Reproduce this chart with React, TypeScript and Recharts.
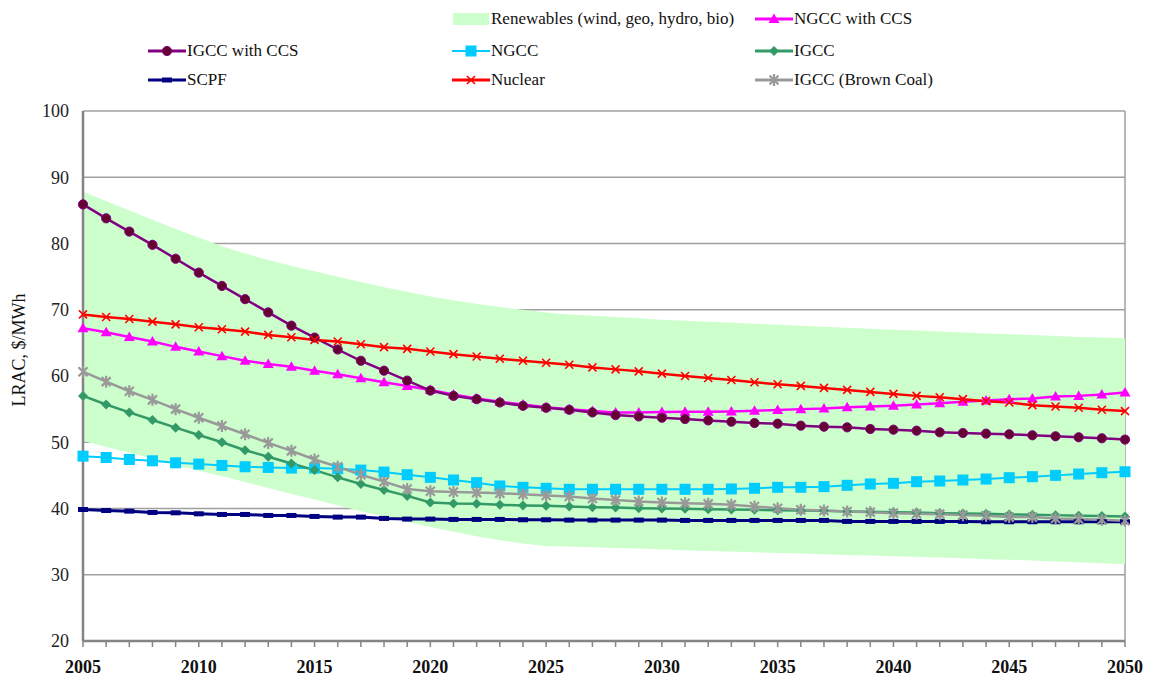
import React from "react";
import { ComposedChart, Line, Area, XAxis, YAxis, CartesianGrid, Label } from "recharts";

// categories
const YEARS = [
  2005, 2006, 2007, 2008, 2009, 2010, 2011, 2012, 2013, 2014,
  2015, 2016, 2017, 2018, 2019, 2020, 2021, 2022, 2023, 2024,
  2025, 2026, 2027, 2028, 2029, 2030, 2031, 2032, 2033, 2034,
  2035, 2036, 2037, 2038, 2039, 2040, 2041, 2042, 2043, 2044,
  2045, 2046, 2047, 2048, 2049, 2050,
];
const X_LABEL_YEARS = [2005, 2010, 2015, 2020, 2025, 2030, 2035, 2040, 2045, 2050];
const Y_TICKS = [20, 30, 40, 50, 60, 70, 80, 90, 100];

// Renewables band (wind, geo, hydro, bio), low / high edge, $/MWh
const RENEW_LOW = [
  50.2, 49.3, 48.4, 47.5, 46.6, 45.7, 44.9, 44.0, 43.1, 42.2,
  41.4, 40.5, 39.6, 38.8, 38.0, 37.2, 36.5, 35.8, 35.2, 34.7,
  34.35, 34.25, 34.15, 34.05, 33.95, 33.85, 33.7, 33.6, 33.5, 33.4,
  33.3, 33.2, 33.1, 33.0, 32.9, 32.8, 32.7, 32.6, 32.5, 32.35,
  32.25, 32.15, 32.0, 31.9, 31.75, 31.6,
];
const RENEW_HIGH = [
  87.8, 86.4, 85.0, 83.6, 82.2, 80.9, 79.6, 78.5, 77.5, 76.6,
  75.8, 75.0, 74.2, 73.4, 72.7, 72.0, 71.4, 70.9, 70.4, 70.0,
  69.6, 69.3, 69.1, 68.9, 68.7, 68.5, 68.35, 68.2, 68.05, 67.9,
  67.75, 67.6, 67.45, 67.3, 67.15, 67.0, 66.85, 66.7, 66.55, 66.4,
  66.3, 66.2, 66.05, 65.9, 65.8, 65.7,
];

const NGCC_CCS = [
  67.2, 66.6, 65.9, 65.2, 64.4, 63.7, 63.0, 62.3, 61.8, 61.4,
  60.8, 60.25, 59.65, 59.05, 58.5, 57.9, 57.2, 56.6, 56.1, 55.7,
  55.3, 55.0, 54.7, 54.5, 54.5, 54.55, 54.6, 54.6, 54.65, 54.75,
  54.85, 55.0, 55.1, 55.3, 55.4, 55.5, 55.7, 55.9, 56.1, 56.3,
  56.5, 56.6, 56.9, 57.0, 57.2, 57.5,
];
const IGCC_CCS = [
  85.9, 83.8, 81.8, 79.8, 77.7, 75.6, 73.6, 71.6, 69.6, 67.6,
  65.8, 64.0, 62.3, 60.8, 59.3, 57.8, 57.0, 56.5, 56.0, 55.5,
  55.2, 54.9, 54.5, 54.1, 53.9, 53.7, 53.5, 53.3, 53.1, 52.9,
  52.8, 52.5, 52.35, 52.25, 52.0, 51.9, 51.75, 51.5, 51.4, 51.3,
  51.2, 51.05, 50.9, 50.75, 50.6, 50.4,
];
const NGCC = [
  47.9, 47.7, 47.4, 47.2, 46.9, 46.7, 46.5, 46.3, 46.2, 46.1,
  46.1, 46.0, 45.8, 45.5, 45.1, 44.7, 44.3, 43.9, 43.4, 43.2,
  43.05, 42.9, 42.9, 42.9, 42.9, 42.9, 42.9, 42.9, 42.95, 43.05,
  43.2, 43.2, 43.3, 43.5, 43.7, 43.8, 44.05, 44.15, 44.3, 44.45,
  44.65, 44.8, 45.0, 45.2, 45.4, 45.55,
];
const IGCC = [
  57.0, 55.7, 54.5, 53.35, 52.2, 51.1, 50.0, 48.8, 47.8, 46.8,
  45.8, 44.7, 43.7, 42.8, 41.9, 40.9, 40.75, 40.7, 40.55, 40.45,
  40.4, 40.3, 40.2, 40.15, 40.05, 40.0, 39.95, 39.9, 39.85, 39.8,
  39.75, 39.7, 39.65, 39.55, 39.5, 39.45, 39.4, 39.3, 39.25, 39.2,
  39.1, 39.05, 39.0, 38.9, 38.85, 38.8,
];
const SCPF = [
  39.85, 39.7, 39.6, 39.4, 39.35, 39.2, 39.1, 39.1, 38.95, 38.95,
  38.8, 38.7, 38.7, 38.5, 38.4, 38.4, 38.35, 38.35, 38.35, 38.3,
  38.3, 38.25, 38.25, 38.25, 38.25, 38.25, 38.2, 38.2, 38.2, 38.2,
  38.2, 38.2, 38.2, 38.05, 38.05, 38.05, 38.05, 38.05, 38.05, 38.0,
  38.0, 38.0, 38.0, 38.0, 38.0, 38.0,
];
const NUCLEAR = [
  69.3, 68.9, 68.6, 68.2, 67.8, 67.35, 67.05, 66.7, 66.2, 65.85,
  65.45, 65.2, 64.8, 64.35, 64.1, 63.7, 63.3, 62.95, 62.6, 62.3,
  62.0, 61.7, 61.3, 61.0, 60.7, 60.35, 60.0, 59.7, 59.4, 59.05,
  58.75, 58.5, 58.2, 57.9, 57.6, 57.3, 57.0, 56.8, 56.5, 56.2,
  56.0, 55.6, 55.4, 55.2, 54.9, 54.7,
];
const IGCC_BROWN = [
  60.65, 59.15, 57.7, 56.4, 55.0, 53.7, 52.45, 51.2, 49.9, 48.7,
  47.4, 46.3, 45.1, 44.05, 42.95, 42.6, 42.5, 42.4, 42.3, 42.15,
  41.95, 41.8, 41.5, 41.3, 41.05, 40.9, 40.8, 40.7, 40.55, 40.3,
  40.05, 39.8, 39.7, 39.55, 39.45, 39.3, 39.2, 39.15, 39.0, 38.9,
  38.7, 38.7, 38.5, 38.4, 38.3, 38.15,
];

const data = YEARS.map((year, i) => ({
  year,
  renew: [RENEW_LOW[i], RENEW_HIGH[i]],
  ngccCcs: NGCC_CCS[i],
  igccCcs: IGCC_CCS[i],
  ngcc: NGCC[i],
  igcc: IGCC[i],
  scpf: SCPF[i],
  nuclear: NUCLEAR[i],
  brown: IGCC_BROWN[i],
}));

const FONT = "'Liberation Serif', 'Times New Roman', serif";
const BAND_FILL = "#ccffcc";
const GRID = "#a0a0a0";
const AXIS = "#858585";

// draw order follows the original workbook
const SERIES = [
  { key: "ngccCcs", name: "NGCC with CCS", color: "#ff00ff", marker: "triangle" },
  { key: "igccCcs", name: "IGCC with CCS", color: "#800080", fill: "#660033", marker: "circle" },
  { key: "ngcc", name: "NGCC", color: "#00ccff", marker: "square", width: 2 },
  { key: "igcc", name: "IGCC", color: "#339966", marker: "diamond" },
  { key: "scpf", name: "SCPF", color: "#000080", marker: "dash", width: 3 },
  { key: "nuclear", name: "Nuclear", color: "#ff0000", marker: "x" },
  { key: "brown", name: "IGCC (Brown Coal)", color: "#999999", marker: "star" },
];

// legend grid: [row, column]
const LEGEND_SLOTS: Record<string, [number, number]> = {
  renew: [0, 1],
  ngccCcs: [0, 2],
  igccCcs: [1, 0],
  ngcc: [1, 1],
  igcc: [1, 2],
  scpf: [2, 0],
  nuclear: [2, 1],
  brown: [2, 2],
};
const LEGEND_ROW_Y = [11, 43, 72];
const LEGEND_COL_X = [140, 444, 747];

function Marker({ kind, cx, cy, color, fill }: any) {
  if (cx == null || cy == null) return null;
  switch (kind) {
    case "circle":
      return <circle cx={cx} cy={cy} r={4.6} fill={fill || color} stroke={color} strokeWidth={1} />;
    case "triangle":
      return (
        <polygon
          points={`${cx},${cy - 5.5} ${cx + 5.5},${cy + 4} ${cx - 5.5},${cy + 4}`}
          fill={color}
        />
      );
    case "square":
      return <rect x={cx - 5.5} y={cy - 5.5} width={11} height={11} fill={color} />;
    case "diamond":
      return (
        <polygon
          points={`${cx},${cy - 5} ${cx + 5},${cy} ${cx},${cy + 5} ${cx - 5},${cy}`}
          fill={color}
        />
      );
    case "dash":
      return <rect x={cx - 5} y={cy - 2.5} width={10} height={5} fill={color} />;
    case "x":
      return (
        <path
          d={`M${cx - 4},${cy - 4}L${cx + 4},${cy + 4}M${cx + 4},${cy - 4}L${cx - 4},${cy + 4}`}
          stroke={color}
          strokeWidth={1.6}
        />
      );
    case "star":
      return (
        <path
          d={`M${cx - 4.5},${cy - 4.5}L${cx + 4.5},${cy + 4.5}M${cx + 4.5},${cy - 4.5}L${cx - 4.5},${cy + 4.5}M${cx},${cy - 6}L${cx},${cy + 6}`}
          stroke={color}
          strokeWidth={2.2}
        />
      );
    default:
      return null;
  }
}

const XTick = ({ x, y, payload }: any) => {
  if (!X_LABEL_YEARS.includes(payload.value)) return <g />;
  return (
    <text x={x} y={y} dy={24} textAnchor="middle" fontFamily={FONT} fontSize={18} fontWeight="bold" fill="#111">
      {payload.value}
    </text>
  );
};

function ChartLegend() {
  const items = [
    { key: "renew", name: "Renewables (wind, geo, hydro, bio)", color: BAND_FILL, marker: "band" },
    ...SERIES,
  ];
  return (
    <>
      {items.map((it: any) => {
        const [row, col] = LEGEND_SLOTS[it.key];
        return (
          <div
            key={it.key}
            style={{
              position: "absolute",
              left: LEGEND_COL_X[col],
              top: LEGEND_ROW_Y[row] - 10,
              height: 20,
              display: "flex",
              alignItems: "center",
              fontFamily: FONT,
              fontSize: 17,
              color: "#111",
              whiteSpace: "nowrap",
              zIndex: 2,
            }}
          >
            <svg width={38} height={20} style={{ marginRight: 1 }}>
              {it.marker === "band" ? (
                <rect x={1} y={4} width={36} height={12} fill={BAND_FILL} />
              ) : (
                <>
                  <line x1={0} y1={10} x2={38} y2={10} stroke={it.color} strokeWidth={it.width || 3} />
                  <Marker kind={it.marker} cx={19} cy={10} color={it.color} fill={it.fill} />
                </>
              )}
            </svg>
            <span>{it.name}</span>
          </div>
        );
      })}
    </>
  );
}

export default function App() {
  return (
    <div style={{ position: "relative", width: 1150, height: 670, background: "#fff" }}>
      <ChartLegend />
      <ComposedChart
        width={1150}
        height={670}
        data={data}
        margin={{ top: 103, right: 33, bottom: 7, left: 20 }}
      >
        <CartesianGrid
          stroke={GRID}
          strokeWidth={1.5}
          vertical={true}
          verticalCoordinatesGenerator={({ offset }: any) => [offset.left + offset.width]}
        />
        <XAxis
          dataKey="year"
          type="number"
          domain={[2005, 2050]}
          ticks={YEARS}
          interval={0}
          height={30}
          tick={<XTick />}
          tickSize={6}
          tickLine={{ stroke: AXIS, strokeWidth: 1.5 }}
          axisLine={{ stroke: AXIS, strokeWidth: 2.5 }}
        />
        <YAxis
          type="number"
          domain={[20, 100]}
          ticks={Y_TICKS}
          interval={0}
          width={55}
          tickLine={false}
          tickMargin={8}
          axisLine={{ stroke: AXIS, strokeWidth: 2.5 }}
          tick={{ fontFamily: FONT, fontSize: 18, fill: "#222" }}
        >
          <Label
            content={({ viewBox }: any) => {
              const cx = viewBox.x - 3;
              const cy = viewBox.y + viewBox.height / 2 - 26;
              return (
                <text
                  x={cx}
                  y={cy}
                  transform={`rotate(-90, ${cx}, ${cy})`}
                  textAnchor="middle"
                  fontFamily={FONT}
                  fontSize={18}
                  fill="#111"
                >
                  LRAC, $/MWh
                </text>
              );
            }}
          />
        </YAxis>
        <Area
          dataKey="renew"
          type="linear"
          fill={BAND_FILL}
          fillOpacity={1}
          stroke="none"
          isAnimationActive={false}
          activeDot={false}
        />
        {SERIES.map((s: any) => (
          <Line
            key={s.key}
            dataKey={s.key}
            name={s.name}
            type="linear"
            stroke={s.color}
            strokeWidth={s.width || 2.5}
            isAnimationActive={false}
            activeDot={false}
            dot={(p: any) => (
              <Marker key={`${s.key}-${p.index}`} kind={s.marker} cx={p.cx} cy={p.cy} color={s.color} fill={s.fill} />
            )}
          />
        ))}
      </ComposedChart>
    </div>
  );
}
